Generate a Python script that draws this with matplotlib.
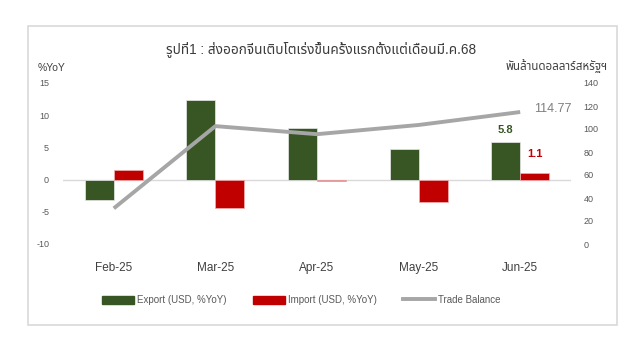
import numpy as np
import matplotlib.pyplot as plt
from matplotlib.patches import Patch, Rectangle
from matplotlib.lines import Line2D

plt.rcParams['font.family'] = ['Liberation Sans', 'Noto Sans Thai', 'Noto Sans', 'DejaVu Sans']
plt.rcParams['axes.unicode_minus'] = False

months = ['Feb-25', 'Mar-25', 'Apr-25', 'May-25', 'Jun-25']
export_yoy = [-3.1, 12.3, 8.0, 4.7, 5.8]
import_yoy = [1.5, -4.4, -0.2, -3.5, 1.1]
trade_balance = [31.0, 102.5, 95.5, 103.5, 114.77]

title = 'รูปที่1 : ส่งออกจีนเติบโตเร่งขึ้นครั้งแรกตั้งแต่เดือนมี.ค.68'
left_unit = '%YoY'
right_unit = 'พันล้านดอลลาร์สหรัฐฯ'

green = '#375623'
red = '#C00000'
grey = '#A6A6A6'
txt = '#595959'

fig = plt.figure(figsize=(6.4, 3.54), dpi=100)
fig.patches.append(Rectangle((28/640, 1-325/354), (617-28)/640, (325-26)/354,
                             transform=fig.transFigure, fill=False,
                             edgecolor='#d9d9d9', linewidth=1.2))

ax = fig.add_axes([63/640, 1-244/354, 508/640, (244-83)/354])
x = np.arange(len(months))
w = 0.285
ax.bar(x - w/2, export_yoy, w, color=green, edgecolor='#e8e8e8', linewidth=0.5, zorder=2)
ax.bar(x + w/2, import_yoy, w, color=red, edgecolor='#f0b0b0', linewidth=0.5, zorder=2)
ax.axhline(0, color='#d9d9d9', linewidth=1, zorder=1)
ax.set_xlim(-0.5, len(months) - 0.5)
ax.set_ylim(-10, 15)
ax.set_yticks([-10, -5, 0, 5, 10, 15])
ax.set_xticks(x)
ax.set_xticklabels(months, fontsize=8.5, color='#404040')
ax.tick_params(axis='x', length=0, pad=13)
ax.tick_params(axis='y', length=0, labelsize=6.5, labelcolor=txt, pad=10)
for s in ax.spines.values():
    s.set_visible(False)

ax2 = ax.twinx()
ax2.plot(x, trade_balance, color=grey, linewidth=2.8, solid_capstyle='butt', zorder=3)
ax2.set_ylim(0, 140)
ax2.set_yticks(range(0, 141, 20))
ax2.tick_params(axis='y', length=0, labelsize=6.5, labelcolor=txt, pad=9)
for s in ax2.spines.values():
    s.set_visible(False)

ax.annotate(f'{export_yoy[-1]:.1f}', (x[-1] - w/2, export_yoy[-1]), xytext=(0, 5),
            textcoords='offset points', ha='center', va='bottom',
            color=green, fontsize=8, fontweight='bold')
ax.annotate(f'{import_yoy[-1]:.1f}', (x[-1] + w/2, import_yoy[-1]), xytext=(0, 10),
            textcoords='offset points', ha='center', va='bottom',
            color=red, fontsize=8, fontweight='bold')
ax2.annotate(f'{trade_balance[-1]:.2f}', (x[-1], trade_balance[-1]), xytext=(10, 2),
             textcoords='offset points', ha='left', va='center',
             color='#7f7f7f', fontsize=9)

# title (no stroke effect: it drops the colon glyph)
fig.text(321/640, 1-49/354, title, ha='center', va='center', fontsize=9.8,
         color='#3a3a3a')
fig.text(38/640, 1-68/354, left_unit, ha='left', va='center', fontsize=7.5, color='#404040')
fig.text(608/640, 1-66/354, right_unit, ha='right', va='center', fontsize=8.3, color='#404040')

handles = [Patch(facecolor=green, edgecolor=green),
           Patch(facecolor=red, edgecolor=red),
           Line2D([0], [0], color=grey, linewidth=2.8)]
labels = ['Export (USD, %YoY)', 'Import (USD, %YoY)', 'Trade Balance']
fig.legend(handles, labels, loc='center', bbox_to_anchor=(301/640, 1-300/354), ncol=3,
           frameon=False, fontsize=7, labelcolor=txt, columnspacing=2.7,
           handlelength=3.3, handleheight=0.9, handletextpad=0.3)

fig.savefig('out.png', dpi=100)
